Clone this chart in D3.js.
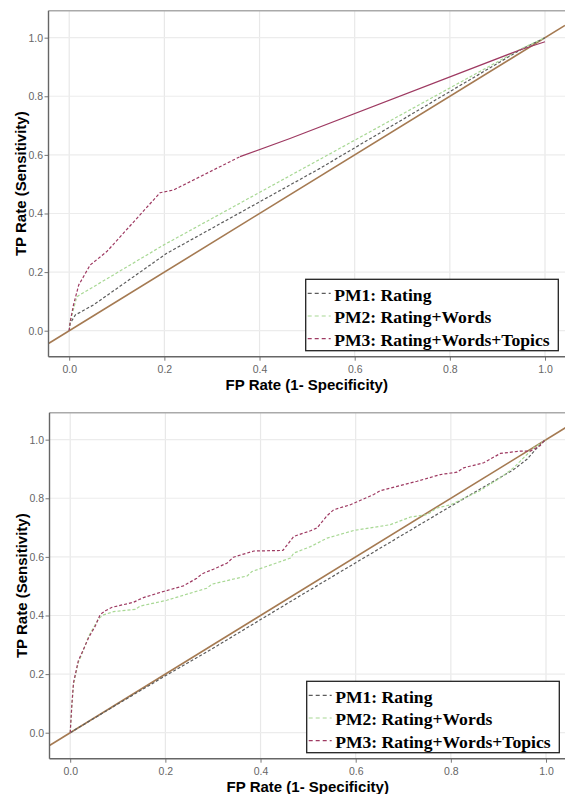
<!DOCTYPE html>
<meta charset="utf-8">
<script src="https://cdn.jsdelivr.net/npm/d3@7"></script>
<style>
  body { margin: 0; background: #fff; }
  text { font-family: "Liberation Sans", Arial, sans-serif; }
</style>
<div id="vis"></div>
<script>
// tick values shared by both panels
const ticks = [0, 0.2, 0.4, 0.6, 0.8, 1.0]
const seriesNames = ["PM1: Rating", "PM2: Rating+Words", "PM3: Rating+Words+Topics"]
const seriesColors = ["#5c5c5c", "#a8d894", "#9e3a62"]

// top panel ROC points [fpr, tpr]
const topPM1 = [[0,0],[0.002,0.025],[0.013,0.054],[0.051,0.088],[0.205,0.264],[0.527,0.554],[0.95,0.96],[1,1]]
const topPM2 = [[0,0],[0.002,0.03],[0.016,0.116],[0.198,0.292],[0.527,0.585],[0.95,0.962],[1,1]]
const topPM3 = [[0,0],[0.002,0.03],[0.009,0.088],[0.02,0.156],[0.044,0.224],[0.079,0.27],[0.191,0.471],
  [0.219,0.48],[0.359,0.594],[0.464,0.656],[0.947,0.958],[1,0.986]]

// bottom panel ROC points [fpr, tpr]
const botPM1 = [[0,0],[0.1,0.098],[0.2,0.194],[0.3,0.288],[0.484,0.468],[0.6,0.58],[0.8,0.773],
  [0.932,0.898],[0.96,0.933],[0.988,0.984],[1,1]]
const botPM2 = [[0,0],[0.0035,0.09],[0.007,0.165],[0.017,0.24],[0.025,0.27],[0.039,0.33],[0.053,0.37],
  [0.06,0.39],[0.07,0.402],[0.091,0.413],[0.137,0.421],[0.147,0.432],[0.203,0.452],[0.287,0.493],
  [0.298,0.507],[0.372,0.535],[0.382,0.55],[0.463,0.596],[0.47,0.613],[0.505,0.635],[0.54,0.664],
  [0.596,0.69],[0.673,0.71],[0.715,0.736],[0.75,0.744],[0.771,0.767],[0.8,0.778],[0.86,0.825],
  [0.904,0.87],[0.932,0.904],[0.946,0.927],[0.974,0.972],[1,1]]
const botPM3 = [[0,0],[0.0035,0.097],[0.007,0.171],[0.017,0.245],[0.025,0.274],[0.039,0.325],[0.053,0.365],
  [0.063,0.403],[0.074,0.416],[0.088,0.428],[0.133,0.445],[0.147,0.456],[0.154,0.461],[0.196,0.482],
  [0.238,0.501],[0.266,0.527],[0.277,0.542],[0.301,0.558],[0.33,0.579],[0.343,0.599],[0.386,0.62],
  [0.447,0.622],[0.47,0.67],[0.505,0.689],[0.519,0.699],[0.54,0.741],[0.554,0.761],[0.589,0.778],
  [0.638,0.813],[0.652,0.826],[0.729,0.858],[0.778,0.881],[0.813,0.889],[0.827,0.904],[0.869,0.921],
  [0.904,0.953],[0.946,0.961],[0.967,0.961],[0.988,0.98],[0.995,0.995],[1,1]]

const width = 565, height = 794
const svg = d3.select("#vis").append("svg")
  .attr("width", width).attr("height", height)

const pLeft = 48.5, pRight = 565, pTop = 10.7, pBottom = 356.7
const xDom = [-0.0435, 1.042], yDom = [-0.0887, 1.092]

function drawPanel(g, id, series, solidTailFrom) {
  const x = d3.scaleLinear().domain(xDom).range([pLeft, pRight])
  const y = d3.scaleLinear().domain(yDom).range([pBottom, pTop])

  g.append("clipPath").attr("id", id)
    .append("rect").attr("x", pLeft).attr("y", pTop)
    .attr("width", pRight - pLeft).attr("height", pBottom - pTop)

  // grid
  g.selectAll(".vg").data(ticks).enter().append("line")
    .attr("x1", d => x(d)).attr("x2", d => x(d))
    .attr("y1", pTop).attr("y2", pBottom)
    .attr("stroke", "#e8e8e8").attr("stroke-width", 1.2)
  g.selectAll(".hg").data(ticks).enter().append("line")
    .attr("y1", d => y(d)).attr("y2", d => y(d))
    .attr("x1", pLeft).attr("x2", pRight)
    .attr("stroke", "#ececec").attr("stroke-width", 1.2)

  // axes
  const ya = g.append("g").attr("transform", `translate(${pLeft},0)`)
    .call(d3.axisLeft(y).tickValues(ticks).tickSize(4).tickPadding(1.5).tickFormat(d3.format(".1f")))
  const xa = g.append("g").attr("transform", `translate(0,${pBottom})`)
    .call(d3.axisBottom(x).tickValues(ticks).tickSize(4).tickPadding(5).tickFormat(d3.format(".1f")))
  for (const a of [ya, xa]) {
    a.select(".domain").remove()
    a.selectAll("line").attr("stroke", "#777")
    a.selectAll("text").attr("fill", "#666").style("font-size", "10.5px")
      .style("font-family", "'Liberation Sans', Arial, sans-serif")
  }

  const plot = g.append("g").attr("clip-path", `url(#${id})`)

  // reference diagonal
  plot.append("line")
    .attr("x1", x(xDom[0])).attr("y1", y(xDom[0]))
    .attr("x2", x(xDom[1])).attr("y2", y(xDom[1]))
    .attr("stroke", "#a57a52").attr("stroke-width", 1.6)

  const line = d3.line().x(d => x(d[0])).y(d => y(d[1]))
  series.forEach((pts, i) => {
    const head = solidTailFrom != null && i === 2 ? pts.filter(d => d[0] <= solidTailFrom) : pts
    plot.append("path").attr("d", line(head))
      .attr("fill", "none").attr("stroke", seriesColors[i])
      .attr("stroke-width", 1.2).attr("stroke-dasharray", "3,2")
    if (head !== pts) {
      plot.append("path").attr("d", line(pts.filter(d => d[0] >= solidTailFrom)))
        .attr("fill", "none").attr("stroke", seriesColors[i]).attr("stroke-width", 1.2)
    }
  })

  // frame
  g.append("line").attr("x1", pLeft).attr("x2", pRight).attr("y1", pTop).attr("y2", pTop)
    .attr("stroke", "#aaa").attr("stroke-width", 1.5)
  g.append("line").attr("x1", pLeft).attr("x2", pLeft).attr("y1", pTop).attr("y2", pBottom)
    .attr("stroke", "#666").attr("stroke-width", 1.4)
  g.append("line").attr("x1", pLeft).attr("x2", pRight).attr("y1", pBottom).attr("y2", pBottom)
    .attr("stroke", "#666").attr("stroke-width", 1.4)

  // axis titles
  g.append("text").attr("x", (pLeft + pRight) / 2).attr("y", 389.5)
    .attr("text-anchor", "middle").style("font-size", "15px").style("font-weight", "bold")
    .text("FP Rate (1- Specificity)")
  g.append("text").attr("transform", `translate(26,${(pTop + pBottom) / 2}) rotate(-90)`)
    .attr("text-anchor", "middle").style("font-size", "15px").style("font-weight", "bold")
    .text("TP Rate (Sensitivity)")

  // legend
  const lg = g.append("g").attr("transform", "translate(305.7,279.3)")
  lg.append("rect").attr("width", 252.6).attr("height", 71.4)
    .attr("fill", "#fff").attr("stroke", "#222").attr("stroke-width", 1.3)
  seriesNames.forEach((name, i) => {
    const cy = 14 + i * 22.7
    lg.append("line").attr("x1", 2).attr("x2", 25).attr("y1", cy).attr("y2", cy)
      .attr("stroke", seriesColors[i]).attr("stroke-width", 1.2).attr("stroke-dasharray", "4,3")
    lg.append("text").attr("x", 28.5).attr("y", cy + 7.5)
      .style("font-family", "'Liberation Serif', 'Times New Roman', serif")
      .style("font-weight", "bold").style("font-size", "17.6px")
      .text(name)
  })
}

drawPanel(svg.append("g"), "clipTop", [topPM1, topPM2, topPM3], 0.359)
drawPanel(svg.append("g").attr("transform", "translate(1,402)"), "clipBot", [botPM1, botPM2, botPM3], null)
</script>
